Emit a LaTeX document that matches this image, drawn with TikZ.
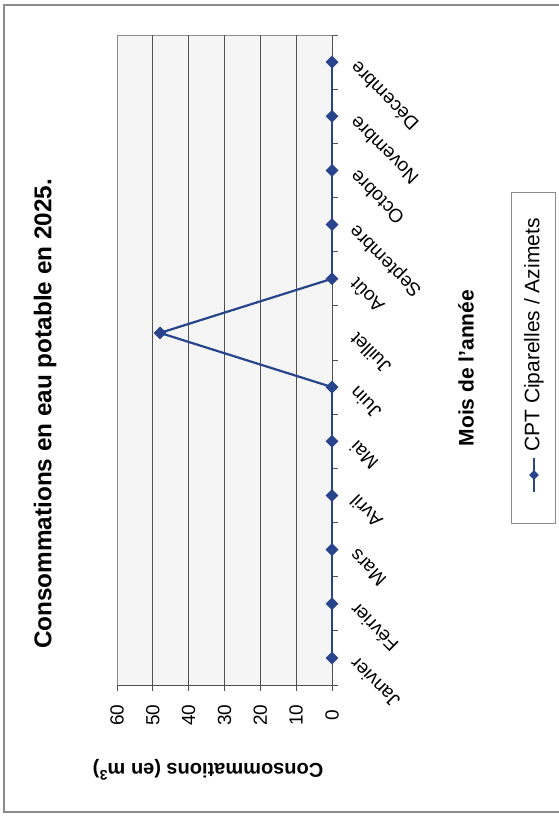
\documentclass[tikz,border=0pt]{standalone}
\usepackage{fontspec}
\setmainfont{Liberation Sans}
\usetikzlibrary{shapes.geometric}
\definecolor{serie}{RGB}{40,68,140}
\definecolor{gridc}{RGB}{80,80,80}
\definecolor{plotbg}{RGB}{245,245,245}
\definecolor{framec}{RGB}{140,140,140}
\begin{document}
\begin{tikzpicture}[x=1pt,y=-1pt,
  tickline/.style={gridc, line width=0.9pt},
  gridline/.style={gridc, line width=0.9pt},
  seriesline/.style={serie, line width=2.2pt},
  mk/.style={diamond, fill=serie, inner sep=0pt, minimum width=13pt, minimum height=13pt},
  vlab/.style={rotate=90, inner sep=0pt, font=\fontsize{19}{19}\selectfont},
  mlab/.style={rotate=135, anchor=east, inner sep=0pt, font=\fontsize{19}{19}\selectfont},
  bigtitle/.style={rotate=90, font=\bfseries\fontsize{24.3}{24.3}\selectfont},
  axtitle/.style={font=\bfseries\fontsize{20}{20}\selectfont},
  legtext/.style={rotate=90, anchor=west, inner sep=0pt, font=\fontsize{21}{21}\selectfont}]
\useasboundingbox (0,0) rectangle (558,816);
\fill[white] (0,0) rectangle (558,816);
% outer frame
\draw[framec, line width=1.3pt] (600,5) -- (4,5) -- (4,812) -- (600,812);
% plot area
\draw[fill=plotbg, draw=framec, line width=0.9pt] (117,35) rectangle (332,685);
\foreach \v in {1,...,5} {
  \pgfmathsetmacro{\gx}{332-\v*35.833}
  \draw[gridline] (\gx,35) -- (\gx,685);
}
% value axis
\draw[tickline] (117,685) -- (332,685);
\foreach \v in {0,...,6} {
  \pgfmathsetmacro{\gx}{332-\v*35.833}
  \draw[tickline] (\gx,685) -- (\gx,691);
  \node[vlab] (val\v) at (\gx,715) {\the\numexpr\v*10\relax};
}
% category axis
\draw[tickline] (332,35) -- (332,685);
\foreach \k in {0,...,12} {
  \pgfmathsetmacro{\gy}{685-\k*54.1667}
  \draw[tickline] (332,\gy) -- (338,\gy);
}
% month labels and points
\foreach \i/\m/\val in {1/Janvier/0,2/Février/0,3/Mars/0,4/Avril/0,5/Mai/0,6/Juin/0,7/Juillet/48,8/Août/0,9/Septembre/0,10/Octobre/0,11/Novembre/0,12/Décembre/0} {
  \pgfmathsetmacro{\my}{685-(\i-0.5)*54.1667}
  \pgfmathsetmacro{\px}{332-\val*3.5833}
  \coordinate (p\i) at (\px,\my);
  \node[mlab] (month\i) at (353,\my+3) {\m};
}
\foreach \i [evaluate=\i as \j using int(\i+1)] in {1,...,11} {
  \draw[seriesline] (p\i) -- (p\j);
}
\foreach \i in {1,...,12} {
  \node[mk] (d\i) at (p\i) {};
}
% titles
\node[bigtitle] (title) at (45,414) {Consommations en eau potable en 2025.};
\node[axtitle, rotate=180] (ytitle) at (208,770) {Consommations (en m\textsuperscript{3})};
\node[axtitle, rotate=90, font=\bfseries\fontsize{21}{21}\selectfont] (xtitle) at (466,368) {Mois de l'année};
% legend
\node[draw=framec, line width=1pt, minimum width=44pt, minimum height=331pt, inner sep=0pt] (legend) at (533,357.5) {};
\coordinate (la) at (534,492);
\coordinate (lb) at (534,458);
\draw[seriesline] (la) -- (lb);
\node[mk, minimum width=10pt, minimum height=10pt] (legmk) at (534,475) {};
\node[legtext] (legtxt) at (534,452) {CPT Ciparelles / Azimets};
\end{tikzpicture}
\end{document}
